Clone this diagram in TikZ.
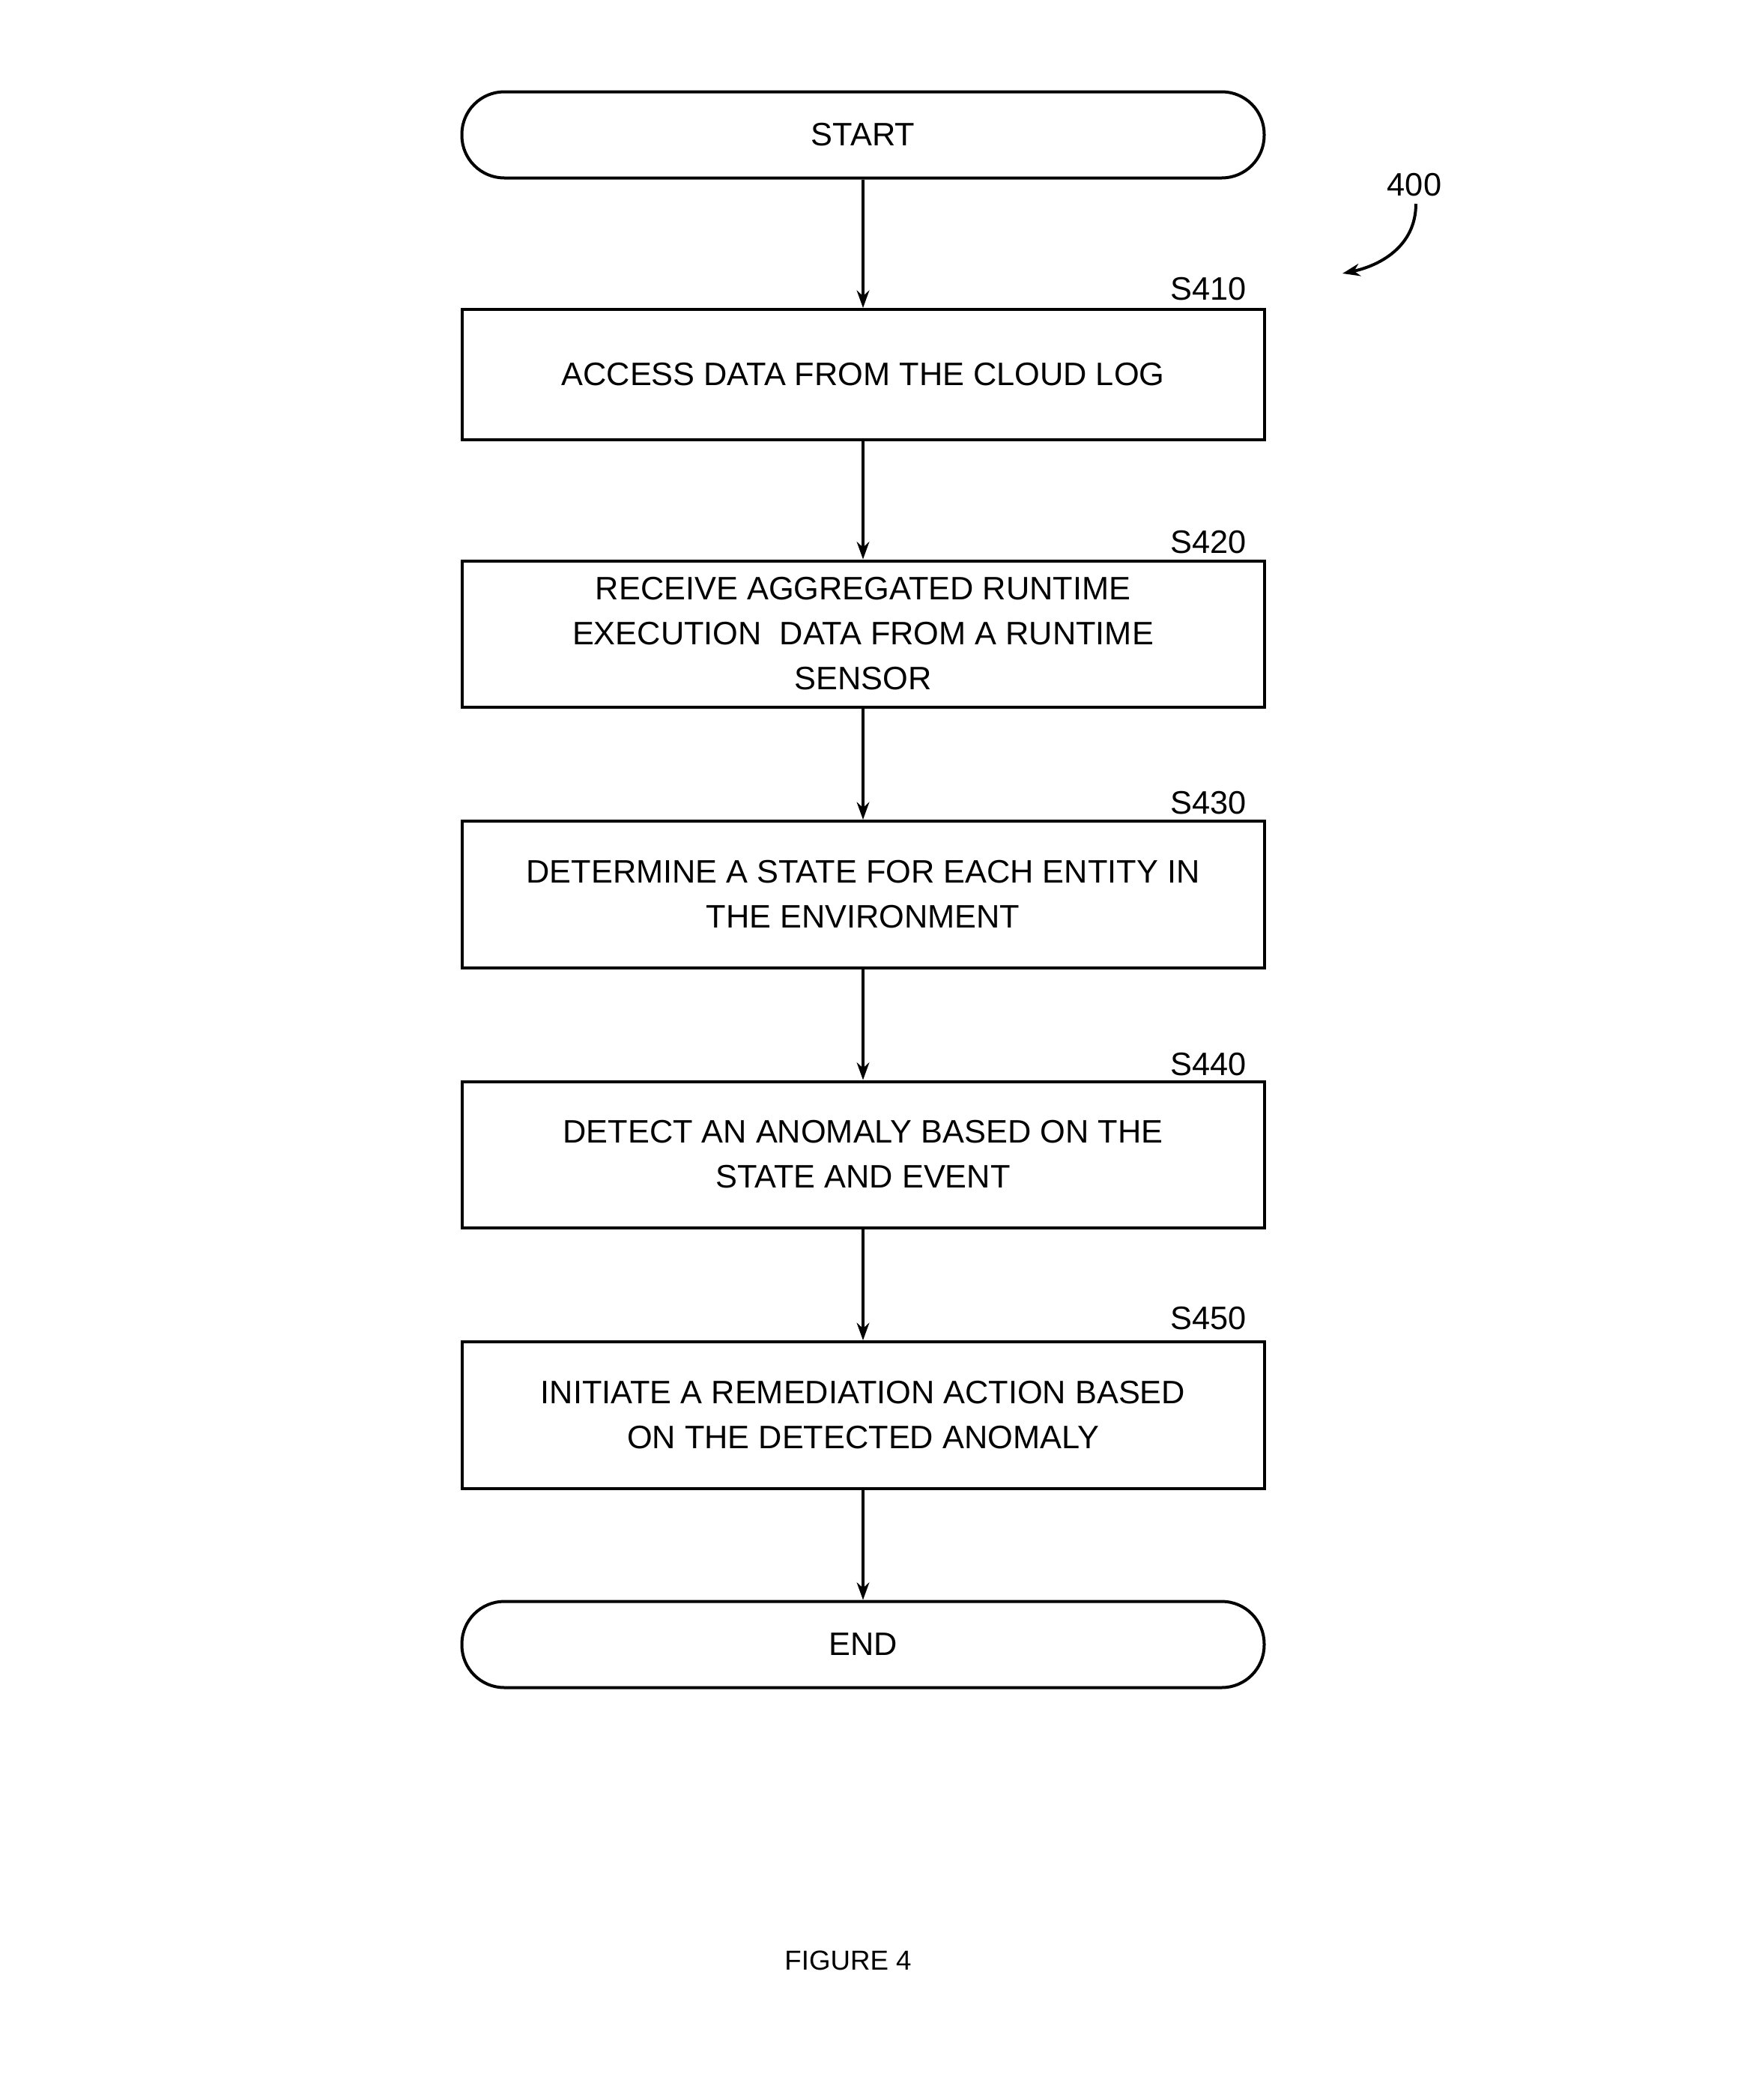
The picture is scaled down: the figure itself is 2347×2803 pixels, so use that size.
\documentclass[tikz,border=0pt]{standalone}
\usepackage{fontspec}
\usetikzlibrary{arrows.meta}
\setmainfont{Liberation Sans}
\begin{document}
\begin{tikzpicture}[x=0.3pt,y=-0.3pt,
  box/.style={draw,line width=1.2pt,minimum width=321.3pt,align=center,font=\fontsize{13}{18}\selectfont,inner sep=0pt},
  term/.style={box,rounded corners=17pt},
  lab/.style={font=\fontsize{13}{16}\selectfont,anchor=south east,inner sep=0pt},
  arr/.style={-{Stealth[length=7pt,width=5pt]},line width=1.2pt}]
\useasboundingbox (0,0) rectangle (2347,2803);
\node[term,minimum height=34.5pt] (start) at (1152,180) {START};
\node[box,minimum height=52.2pt] (s410) at (1152,500) {ACCESS DATA FROM THE CLOUD LOG};
\node[box,minimum height=58.5pt] (s420) at (1152,846) {RECEIVE AGGREGATED RUNTIME\\EXECUTION\ \ DATA FROM A RUNTIME\\SENSOR};
\node[box,minimum height=58.8pt] (s430) at (1152,1194) {DETERMINE A STATE FOR EACH ENTITY IN\\THE ENVIRONMENT};
\node[box,minimum height=58.5pt] (s440) at (1152,1541) {DETECT AN ANOMALY BASED ON THE\\STATE AND EVENT};
\node[box,minimum height=58.8pt] (s450) at (1152,1889) {INITIATE A REMEDIATION ACTION BASED\\ON THE DETECTED ANOMALY};
\node[term,minimum height=34.5pt] (end) at (1152,2195) {END};
\node[lab] (l1) at (1664,402) {S410};
\node[lab] (l2) at (1664,740) {S420};
\node[lab] (l3) at (1664,1088) {S430};
\node[lab] (l4) at (1664,1437) {S440};
\node[lab] (l5) at (1664,1776) {S450};
\node[font=\fontsize{13}{16}\selectfont,inner sep=0pt] (n400) at (1888,247) {400};
\node[font=\fontsize{11}{14}\selectfont,inner sep=0pt] (fig) at (1132,2617) {FIGURE 4};
\coordinate (a0) at (1890,272);
\coordinate (a1) at (1792,365);
\draw[arr] (a0) .. controls (1890,330) and (1840,355) .. (a1);
\draw[arr] (start) -- (s410);
\draw[arr] (s410) -- (s420);
\draw[arr] (s420) -- (s430);
\draw[arr] (s430) -- (s440);
\draw[arr] (s440) -- (s450);
\draw[arr] (s450) -- (end);
\end{tikzpicture}
\end{document}
